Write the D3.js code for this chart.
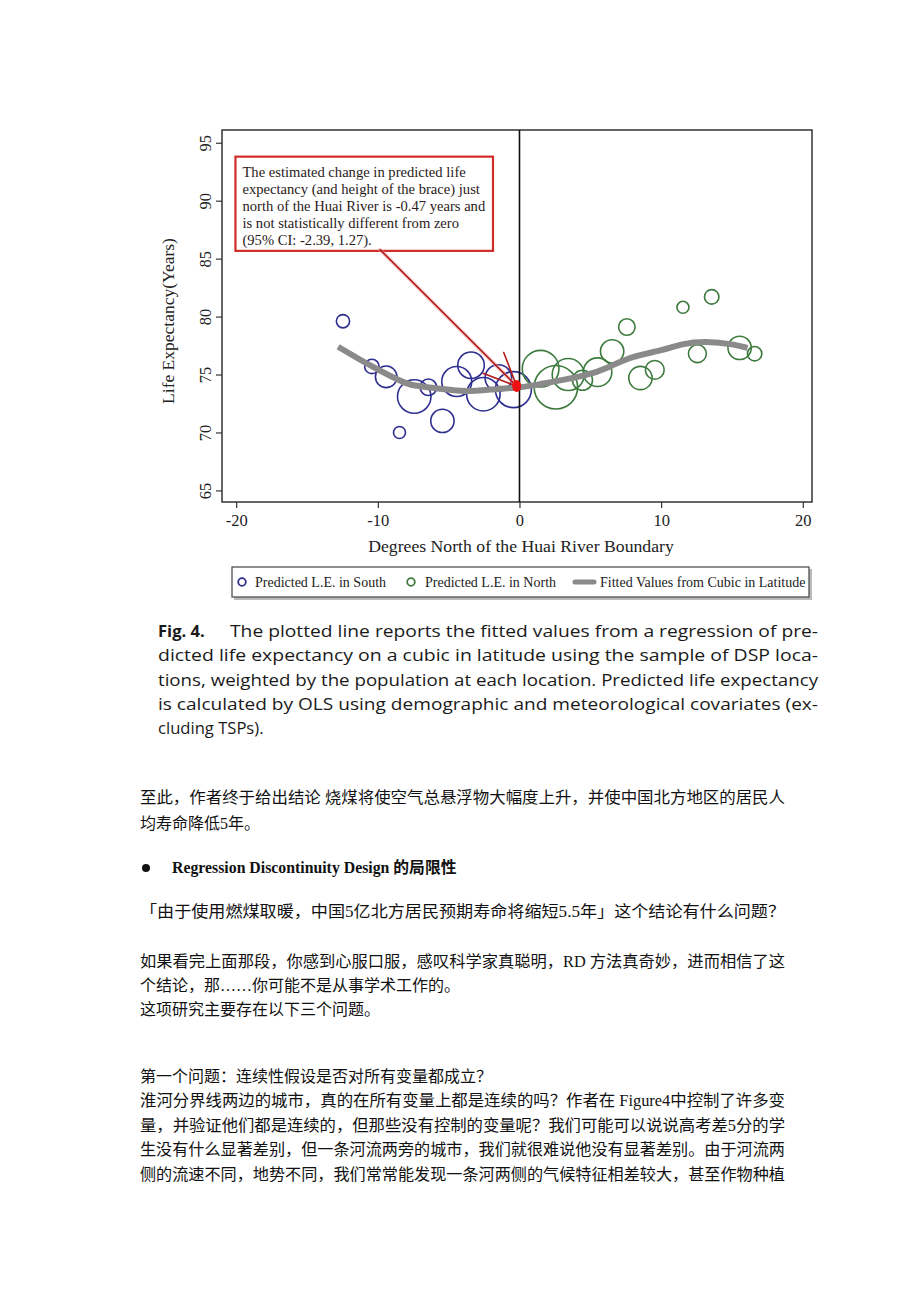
<!DOCTYPE html>
<html><head><meta charset="utf-8">
<script src="https://cdn.jsdelivr.net/npm/d3@7"></script>
<style>
html,body{margin:0;padding:0;background:#fff;}
svg{display:block;}
</style></head>
<body>
<svg id="page" width="920" height="1302"></svg>
<script>
// ---------- data ----------
const southX = [-12.46,-10.42,-9.41,-7.43,-6.43,-8.47,-5.44,-4.43,-3.42,-2.55,-1.49,-0.43];
const southY = [79.6,75.7,74.8,73.1,73.9,70.0,71.0,74.4,75.8,73.3,74.7,73.7];
const southW = [11,13,29,70,17,9,34,56,44,70,44,81];
const northX = [1.49,2.57,3.44,4.45,5.51,6.54,7.58,8.54,9.55,11.54,13.57,12.56,15.54,16.6];
const northY = [75.5,73.9,75.0,74.5,75.2,77.0,79.1,74.7,75.4,80.8,81.7,76.8,77.3,76.8];
const northW = [84,118,64,25,51,34,17,34,22,9,13,20,34,13];
const fitX = [-12.8,-10.4,-8.1,-6.75,-4.1,-2.1,0,1.6,4.5,6.4,8.0,10.0,11.5,13.2,15.0,16.1];
const fitY = [77.4,75.7,74.3,73.95,73.6,73.7,73.9,74.2,74.9,75.7,76.5,77.1,77.6,77.8,77.6,77.3];
const xTicks = [-20,-10,0,10,20];
const yTicks = [65,70,75,80,85,90,95];
const jumpPoint = {x:-0.2, y:74.0};
const arrowStart = {x:-9.83, y:85.76};
const noteBox = {x0:-20.05, x1:-1.87, y0:93.8, y1:85.67};
const noteLines = [
 "The estimated change in predicted life",
 "expectancy (and height of the brace) just",
 "north of the Huai River is -0.47 years and",
 "is not statistically different from zero",
 "(95% CI: -2.39, 1.27)."
];
const legendItems = ["Predicted L.E. in South","Predicted L.E. in North","Fitted Values from Cubic in Latitude"];
const captionLines = [
 "The plotted line reports the fitted values from a regression of pre-",
 "dicted life expectancy on a cubic in latitude using the sample of DSP loca-",
 "tions, weighted by the population at each location. Predicted life expectancy",
 "is calculated by OLS using demographic and meteorological covariates (ex-",
 "cluding TSPs)."
];
const bodyLines = [
 {t:"至此，作者终于给出结论 烧煤将使空气总悬浮物大幅度上升，并使中国北方地区的居民人", y:803, full:true},
 {t:"均寿命降低5年。", y:829},
 {t:"「由于使用燃煤取暖，中国5亿北方居民预期寿命将缩短5.5年」这个结论有什么问题？", y:917, full:true},
 {t:"如果看完上面那段，你感到心服口服，感叹科学家真聪明，RD 方法真奇妙，进而相信了这", y:967, full:true},
 {t:"个结论，那……你可能不是从事学术工作的。", y:991},
 {t:"这项研究主要存在以下三个问题。", y:1015},
 {t:"第一个问题：连续性假设是否对所有变量都成立？", y:1082},
 {t:"淮河分界线两边的城市，真的在所有变量上都是连续的吗？作者在 Figure4中控制了许多变", y:1106, full:true},
 {t:"量，并验证他们都是连续的，但那些没有控制的变量呢？我们可能可以说说高考差5分的学", y:1131, full:true},
 {t:"生没有什么显著差别，但一条河流两旁的城市，我们就很难说他没有显著差别。由于河流两", y:1155, full:true},
 {t:"侧的流速不同，地势不同，我们常常能发现一条河两侧的气候特征相差较大，甚至作物种植", y:1180, full:true}
];

// ---------- layout ----------
const svg = d3.select("#page");
svg.append("rect").attr("width",920).attr("height",1302).attr("fill","#fff");
const L = 222, R = 812, T = 130, B = 502;
const x = d3.scaleLinear().domain([-21.0, 20.65]).range([L, R]);
const y = d3.scaleLinear().domain([64.0, 96.1]).range([B, T]);
const rScale = d3.scaleSqrt().domain([0,100]).range([0,20]);
const serif = "'Liberation Serif','Times New Roman',serif";
const blue = "#2e2e90", green = "#3d7a3d", grayLine = "#8a8a8a";

const g = svg.append("g");

// axes
const yAxis = g.append("g").attr("transform",`translate(${L},0)`)
  .call(d3.axisLeft(y).tickValues(yTicks).tickFormat(d=>String(d)).tickSize(6).tickSizeOuter(0));
yAxis.select(".domain").remove();
yAxis.selectAll("line").attr("stroke","#333").attr("stroke-width",1.2);
yAxis.selectAll("text").attr("transform","rotate(-90)").attr("x",0).attr("y",-11).attr("dy",0)
  .attr("text-anchor","middle").attr("font-family",serif).attr("font-size",16.5).attr("fill","#222");

const xAxis = g.append("g").attr("transform",`translate(0,${B})`)
  .call(d3.axisBottom(x).tickValues(xTicks).tickFormat(d=>String(d)).tickSize(6).tickSizeOuter(0));
xAxis.select(".domain").remove();
xAxis.selectAll("line").attr("stroke","#333").attr("stroke-width",1.2);
xAxis.selectAll("text").attr("y",12).attr("dy","0.71em").attr("font-family",serif).attr("font-size",16.5).attr("fill","#222");

// frame
g.append("rect").attr("x",L).attr("y",T).attr("width",R-L).attr("height",B-T)
  .attr("fill","none").attr("stroke","#333").attr("stroke-width",1.5);

// titles
g.append("text").attr("transform",`translate(174,${(T+B)/2+5}) rotate(-90)`).attr("text-anchor","middle")
  .attr("font-family",serif).attr("font-size",17.5).attr("fill","#222").text("Life Expectancy(Years)");
g.append("text").attr("x",(L+R)/2+4).attr("y",552).attr("text-anchor","middle")
  .attr("font-family",serif).attr("font-size",17.7).attr("fill","#222").text("Degrees North of the Huai River Boundary");

// scatter
const south = southX.map((v,i)=>({x:v,y:southY[i],w:southW[i]}));
const north = northX.map((v,i)=>({x:v,y:northY[i],w:northW[i]}));
g.append("g").selectAll("circle").data(south).join("circle")
  .attr("cx",d=>x(d.x)).attr("cy",d=>y(d.y)).attr("r",d=>rScale(d.w))
  .attr("fill","none").attr("stroke",blue).attr("stroke-width",1.6);
g.append("g").selectAll("circle").data(north).join("circle")
  .attr("cx",d=>x(d.x)).attr("cy",d=>y(d.y)).attr("r",d=>rScale(d.w))
  .attr("fill","none").attr("stroke",green).attr("stroke-width",1.6);

// fitted line
const fit = fitX.map((v,i)=>[v,fitY[i]]);
g.append("path").datum(fit)
  .attr("d",d3.line().x(d=>x(d[0])).y(d=>y(d[1])).curve(d3.curveNatural))
  .attr("fill","none").attr("stroke",grayLine).attr("stroke-width",6).attr("stroke-linecap","butt");

// vertical line at 0
g.append("line").attr("x1",x(0)).attr("x2",x(0)).attr("y1",T).attr("y2",B)
  .attr("stroke","#111").attr("stroke-width",1.6);

// annotation box
g.append("rect").attr("x",x(noteBox.x0)).attr("y",y(noteBox.y0))
  .attr("width",x(noteBox.x1)-x(noteBox.x0)).attr("height",y(noteBox.y1)-y(noteBox.y0))
  .attr("fill","#fff").attr("stroke","#d42a2a").attr("stroke-width",2.2);
g.append("g").selectAll("text").data(noteLines).join("text")
  .attr("x",x(noteBox.x0)+7).attr("y",(d,i)=>y(noteBox.y0)+20+i*17)
  .attr("font-family",serif).attr("font-size",14.6).attr("fill","#2a1a1a").text(d=>d);

// arrow
const ax0 = x(arrowStart.x), ay0 = y(arrowStart.y), ax1 = x(jumpPoint.x), ay1 = y(jumpPoint.y);
const ang = Math.atan2(ay1-ay0, ax1-ax0);
const arrow = g.append("g").attr("stroke","#b51a1a").attr("stroke-width",1.6).attr("stroke-linecap","round");
arrow.append("line").attr("x1",ax0).attr("y1",ay0).attr("x2",ax1).attr("y2",ay1)
  .attr("stroke","#f2a0a0").attr("stroke-width",4).attr("opacity",0.5);
arrow.append("line").attr("x1",ax0).attr("y1",ay0).attr("x2",ax1).attr("y2",ay1);
[-0.42,0.42].forEach(da=>{
  arrow.append("line").attr("x1",ax1).attr("y1",ay1)
    .attr("x2",ax1-36*Math.cos(ang+da)).attr("y2",ay1-36*Math.sin(ang+da));
});
g.append("ellipse").attr("cx",ax1).attr("cy",ay1).attr("rx",4.5).attr("ry",6).attr("fill","#ee1111");

// legend
const lg = svg.append("g");
lg.append("rect").attr("x",234).attr("y",569).attr("width",578).attr("height",31).attr("fill","#bbb");
lg.append("rect").attr("x",232).attr("y",567).attr("width",577).attr("height",30)
  .attr("fill","#fff").attr("stroke","#444").attr("stroke-width",1.2);
const lgY = 582;
lg.append("circle").attr("cx",242).attr("cy",lgY).attr("r",3.8).attr("fill","none").attr("stroke",blue).attr("stroke-width",1.8);
lg.append("circle").attr("cx",411).attr("cy",lgY).attr("r",3.8).attr("fill","none").attr("stroke",green).attr("stroke-width",1.8);
lg.append("line").attr("x1",575).attr("x2",594).attr("y1",lgY).attr("y2",lgY).attr("stroke",grayLine).attr("stroke-width",5).attr("stroke-linecap","round");
const lgX = [255,425,600];
lg.selectAll("text.lt").data(legendItems).join("text").attr("class","lt")
  .attr("x",(d,i)=>lgX[i]).attr("y",lgY+5)
  .attr("font-family",serif).attr("font-size",14).attr("fill","#222").text(d=>d);

// caption
const cap = svg.append("g").attr("font-family","'Open Sans','Noto Sans',sans-serif").attr("font-size",16.6).attr("fill","#1a1a1a");
cap.append("text").attr("x",158).attr("y",637).attr("font-weight","bold").text("Fig. 4.");
const capStarts = [230,158,158,158,158];
const capEnds = [818,818,818,818,null];
const capY = [637,661,686,710,734];
captionLines.forEach((t,i)=>{
  const tx = cap.append("text").attr("x",capStarts[i]).attr("y",capY[i]).text(t);
  if(capEnds[i]) tx.attr("textLength",capEnds[i]-capStarts[i]).attr("lengthAdjust","spacingAndGlyphs");
});

// body text
const body = svg.append("g").attr("font-family","'Liberation Serif','Noto Sans CJK SC',serif")
  .attr("font-size",16).attr("fill","#111");
bodyLines.forEach(l=>{
  const tx = body.append("text").attr("x",140).attr("y",l.y).text(l.t);
  if(l.full) tx.attr("textLength",645).attr("lengthAdjust","spacingAndGlyphs");
});
body.append("circle").attr("cx",146).attr("cy",868).attr("r",4).attr("fill","#111");
body.append("text").attr("x",172).attr("y",873).attr("font-weight","bold").attr("font-size",15.8).text("Regression Discontinuity Design 的局限性");
</script>
</body></html>
